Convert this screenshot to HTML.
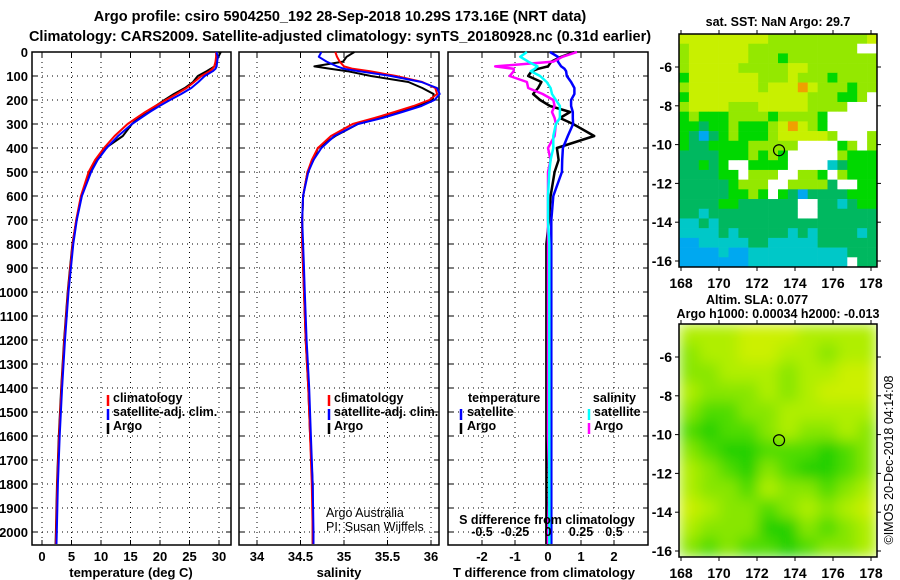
<!DOCTYPE html>
<html><head><meta charset="utf-8"><style>
html,body{margin:0;padding:0;background:#fff;}
svg{display:block;font-family:"Liberation Sans",Arial,sans-serif;}
.b{font-weight:bold;}
</style></head><body>
<svg id="c" width="900" height="580" viewBox="0 0 900 580" xmlns="http://www.w3.org/2000/svg">
<defs>
<filter id="blur" x="0" y="0" width="1" height="1"><feGaussianBlur stdDeviation="7" edgeMode="duplicate"/></filter>
<clipPath id="m2clip"><rect x="679" y="324" width="198" height="233"/></clipPath>
</defs>
<text x="340" y="21" text-anchor="middle" class="b" font-size="14.5">Argo profile: csiro 5904250_192 28-Sep-2018 10.29S 173.16E (NRT data)</text>
<text x="340" y="41" text-anchor="middle" class="b" font-size="14.5">Climatology: CARS2009. Satellite-adjusted climatology: synTS_20180928.nc (0.31d earlier)</text>
<g id="g"></g>
</svg>
<script>
// ---- data ----
const depths = [0,20,40,60,70,80,100,125,150,175,200,225,250,275,300,350,400,450,500,600,700,800,900,1000,1200,1400,1600,1800,2000,2050];
const climT = [29.5,29.5,29.4,29.2,28.9,28.4,27,25.8,24.5,22.8,21,19.2,17.5,16,14.5,12.3,10.5,9.0,7.9,6.6,5.8,5.2,4.8,4.4,3.8,3.3,2.9,2.6,2.4,2.35];
const satT = [29.56,29.8,29.7,29.6,29.4,28.95,27.57,26.5,25.3,23.6,21.7,19.9,18.25,16.75,15.26,12.9,10.95,9.43,8.32,6.76,5.9,5.3,4.9,4.5,3.9,3.4,3.0,2.7,2.5,2.45];
const argoT = [30.3,29.9,29.5,29.2,28.6,27.9,26.4,25.6,24.2,22.35,20.76,19.26,18.17,16.36,15.26,13.7,10.77,9.32,8.1,6.68,5.83,5.15,4.75,4.35,3.75,3.25,2.85,2.55,2.35,2.3];
const climS = [34.9,34.92,34.95,35.0,35.1,35.3,35.6,35.9,36.05,36.07,35.98,35.8,35.58,35.35,35.1,34.85,34.7,34.63,34.58,34.53,34.52,34.52,34.53,34.54,34.56,34.59,34.61,34.63,34.64,34.64];
const satS = [34.74,34.71,34.8,34.92,35.0,35.17,35.54,35.89,36.07,36.1,36.04,35.89,35.67,35.44,35.16,34.89,34.74,34.65,34.59,34.53,34.52,34.53,34.54,34.55,34.57,34.6,34.62,34.64,34.65,34.65];
const argoS = [35.12,35.03,34.99,34.66,34.84,35.04,35.31,35.74,35.9,36.03,36.02,35.85,35.61,35.4,35.16,34.9,34.7,34.65,34.58,34.53,34.52,34.52,34.53,34.54,34.56,34.59,34.61,34.64,34.64,34.64];
const tDiffSat = [0.06,0.3,0.3,0.4,0.5,0.55,0.57,0.7,0.8,0.8,0.7,0.7,0.75,0.75,0.76,0.6,0.45,0.43,0.42,0.16,0.1,0.1,0.1,0.1,0.1,0.1,0.1,0.1,0.1,0.1];
const tDiffArgo = [0.8,0.4,0.1,0,-0.3,-0.5,-0.6,-0.2,-0.3,-0.45,-0.24,0.06,0.67,0.36,0.76,1.4,0.27,0.32,0.2,0.08,0.03,-0.05,-0.05,-0.05,-0.05,-0.05,-0.05,-0.05,-0.05,-0.05];
const sDiffSat = [-0.16,-0.21,-0.15,-0.08,-0.1,-0.13,-0.06,-0.01,0.02,0.03,0.06,0.09,0.09,0.09,0.06,0.04,0.04,0.02,0.01,0,0,0.01,0.01,0.01,0.01,0.01,0.01,0.01,0.01,0.01];
const sDiffArgo = [0.22,0.11,0.04,-0.4,-0.26,-0.26,-0.29,-0.16,-0.15,-0.04,0.04,0.05,0.03,0.05,0.06,0.05,0,0.02,0,0,0,0,0,0,0,0,0,0.01,0,0];
const depthTicks = [0,100,200,300,400,500,600,700,800,900,1000,1100,1200,1300,1400,1500,1600,1700,1800,1900,2000];
const tTicks = [0,5,10,15,20,25,30];
const sTicks = [34,34.5,35,35.5,36];
const sTickLabels = ["34","34.5","35","35.5","36"];
const tdTicks = [-2,-1,0,1,2];
const sdTicks = [-0.5,-0.25,0,0.25,0.5];
const sdTickLabels = ["-0.5","-0.25","0","0.25","0.5"];
const lonTicks = [168,170,172,174,176,178];
const latTicks = [-6,-8,-10,-12,-14,-16];
const argoLon = 173.16, argoLat = -10.29;
const sstRows = [
"yyyyyyyyylllllllllly","lyyyyyylllllllllllww","lyyyyyylllglllllllll","lyyyyylllllyylllllll",
"gyyyyyyylllylllgllll","lyyyyyyylyyyoylllgll","gyyyyyyyyyyyylllgglw","lyyyylllyyyyyllllwww",
"glgggllllgllllgwwwww","ggGgglggglyoylgwwwww","gGbGglggglyyyyylwwwl","gGGgggglllllwwwwglwl",
"GGGGggglglgwwwwwlggg","GGgGgwwggggwwwwcGggg","GGGGggwlllwwllgwlggg","GGGGGglllwwllllGwwgg",
"GGGGGgglgwgGbGGGGggg","GGGGggGGGGGGwwGGcGgg","GGcGGGGGGGGGwwGGGGGG","ccGcGGGGGGGGGGGGGGGG",
"ccccGcGGGGGcGcGGGGcG","bbcccccGGcccccGGGGGG","bbbbcbbccccccccccGGG","bbbbbbbccccccccccwGG"];
const slaRows = ["LLLYYYLLLL","MLLYYLLMLL","MMLLLMLLYY","LMMMLMLYYY","MGGMMLLLLL","GDGGMLMMLM",
"MGDDGGGDGM","LMGDMGDDGM","LMMGLMMGML","YLMMGMLMLY","LMMMDDMGML","MGMGGDGMML"];
// ---- rendering ----
const NS="http://www.w3.org/2000/svg";
const root=document.getElementById('g');
function mk(tag,attrs,parent){const e=document.createElementNS(NS,tag);for(const k in attrs)e.setAttribute(k,attrs[k]);(parent||root).appendChild(e);return e;}
const PT=52, PB=545;
const yD = d => PT + d*0.24;
const panels=[{x0:32,x1:231,name:'temperature'},{x0:239,x1:439,name:'salinity'},{x0:448,x1:648,name:'difference'}];
const xT = v => 42 + v*5.9;
const xS = v => 257 + (v-34)*87;
const xTD = v => 548 + v*33;
const xSD = v => 548 + v*132;

depthTicks.forEach(d=>{const t=mk('text',{x:28,y:yD(d)+5,'text-anchor':'end','font-size':13,class:'b'});t.textContent=d;

});

function panelFrame(p,xs,xf){
  const g=mk('g',{});
  
  
  depthTicks.forEach(d=>{const l=mk('line',{x1:p.x0,x2:p.x1,y1:yD(d),y2:yD(d),stroke:'#000','stroke-width':1,'stroke-dasharray':'1,4'},g);
  
  
  mk('line',{x1:p.x0,x2:p.x0+5,y1:yD(d),y2:yD(d),stroke:'#000'},g);mk('line',{x1:p.x1-5,x2:p.x1,y1:yD(d),y2:yD(d),stroke:'#000'},g);});
  xs.forEach(v=>{const x=xf(v);const l=mk('line',{x1:x,x2:x,y1:PT,y2:PB,stroke:'#000','stroke-dasharray':'1,4'},g);
  
  
  mk('line',{x1:x,x2:x,y1:PB-5,y2:PB,stroke:'#000'},g);mk('line',{x1:x,x2:x,y1:PT,y2:PT+5,stroke:'#000'},g);});
  const r=mk('rect',{x:p.x0,y:PT,width:p.x1-p.x0,height:PB-PT,fill:'none',stroke:'#000','stroke-width':1.5},g);
  
  
  return g;
}
function line(vals,xf,color,g,name,w){
  const pts=vals.map((v,i)=>xf(v).toFixed(1)+','+yD(depths[i]).toFixed(1)).join(' ');
  const pl=mk('polyline',{points:pts,fill:'none',stroke:color,'stroke-width':w||2,'stroke-linejoin':'round'},g);
  
  
}
function txt(x,y,s,size,bold,g,name,anchor){const t=mk('text',{x:x,y:y,'font-size':size,'text-anchor':anchor||'start'},g);if(bold)t.setAttribute('class','b');t.textContent=s;
  
  return t;}
function legMark(x,y,color,g){const l=mk('line',{x1:x,x2:x,y1:y-7,y2:y+4,stroke:color,'stroke-width':2.5},g);
  
  }

let g1=panelFrame(panels[0],tTicks,xT);
line(argoT,xT,'#000',g1,'argo-temperature-line');
line(climT,xT,'#f00',g1,'climatology-temperature-line');
line(satT,xT,'#00f',g1,'satellite-temperature-line');
tTicks.forEach(v=>txt(xT(v),561,String(v),13,true,g1,'temperature-tick-label','middle'));
txt(131,577,'temperature (deg C)',13,true,g1,'temperature-axis-title','middle');
[['climatology','#f00'],['satellite-adj. clim.','#00f'],['Argo','#000']].forEach((e,i)=>{legMark(108,402+i*14,e[1],g1);txt(113,402+i*14,e[0],12.5,true,g1,'legend-entry');});

let g2=panelFrame(panels[1],sTicks,xS);
line(argoS,xS,'#000',g2,'argo-salinity-line');
line(climS,xS,'#f00',g2,'climatology-salinity-line');
line(satS,xS,'#00f',g2,'satellite-salinity-line');
sTicks.forEach((v,i)=>txt(xS(v),561,sTickLabels[i],13,true,g2,'salinity-tick-label','middle'));
txt(339,577,'salinity',13,true,g2,'salinity-axis-title','middle');
[['climatology','#f00'],['satellite-adj. clim.','#00f'],['Argo','#000']].forEach((e,i)=>{legMark(329,402+i*14,e[1],g2);txt(334,402+i*14,e[0],12.5,true,g2,'legend-entry');});
txt(326,517,'Argo Australia',12.5,false,g2,'credit-argo-australia');
txt(326,531,'PI: Susan Wijffels',12.5,false,g2,'credit-pi');

let g3=panelFrame(panels[2],tdTicks,xTD);
line(tDiffArgo,xTD,'#000',g3,'argo-temperature-diff-line',2.5);
line(tDiffSat,xTD,'#00f',g3,'satellite-temperature-diff-line',2.5);
line(sDiffArgo,xSD,'#f0f',g3,'argo-salinity-diff-line',2.5);
line(sDiffSat,xSD,'#0ff',g3,'satellite-salinity-diff-line',2.5);
tdTicks.forEach(v=>txt(xTD(v),561,String(v),13,true,g3,'t-diff-tick-label','middle'));
sdTicks.forEach((v,i)=>txt(xSD(v),536,sdTickLabels[i],12.5,true,g3,'s-diff-tick-label','middle'));
txt(547,524,'S difference from climatology',12.5,true,g3,'s-diff-axis-title','middle');
txt(544,577,'T difference from climatology',13,true,g3,'t-diff-axis-title','middle');
txt(468,402,'temperature',12.5,true,g3,'legend-temperature-header');
legMark(461,416,'#00f',g3);txt(467,416,'satellite',12.5,true,g3,'legend-entry');
legMark(461,430,'#000',g3);txt(467,430,'Argo',12.5,true,g3,'legend-entry');
txt(636,402,'salinity',12.5,true,g3,'legend-salinity-header','end');
legMark(589,416,'#0ff',g3);txt(594,416,'satellite',12.5,true,g3,'legend-entry');
legMark(589,430,'#f0f',g3);txt(594,430,'Argo',12.5,true,g3,'legend-entry');

const sstCol={y:'#c8f000',l:'#94e800',g:'#00d800',G:'#00b860',c:'#00c8c8',b:'#00a8f0',o:'#f0a000',w:'#ffffff'};
const slaCol={Y:'#ccf000',L:'#b0ee00',M:'#88e600',G:'#50dc00',D:'#20d000'};
const lonX = lon => 681 + (lon-168)*19;
function latY(top,lat){return top+33 + (-6-lat)*19.4;}
function mapAxes(top,g,name){
  const r=mk('rect',{x:679,y:top,width:198,height:233,fill:'none',stroke:'#000','stroke-width':1.5},g);
  
  
  lonTicks.forEach(v=>{const x=lonX(v);mk('line',{x1:x,x2:x,y1:top-4,y2:top,stroke:'#000'},g);mk('line',{x1:x,x2:x,y1:top+233,y2:top+237,stroke:'#000'},g);
    txt(x,top+254,String(v),14,true,g,'longitude-tick-label','middle');});
  latTicks.forEach(v=>{const y=latY(top,v);mk('line',{x1:675,x2:679,y1:y,y2:y,stroke:'#000'},g);mk('line',{x1:877,x2:881,y1:y,y2:y,stroke:'#000'},g);
    txt(672,y+5,String(v),14,true,g,'latitude-tick-label','end');});
  const c=mk('circle',{cx:lonX(argoLon),cy:latY(top,argoLat),r:5.5,fill:'none',stroke:'#000','stroke-width':1.2},g);
  
  
}
const gm1=mk('g',{});


const cw=198/sstRows[0].length, ch=233/sstRows.length;
sstRows.forEach((row,ri)=>{[...row].forEach((k,ci)=>{const r=mk('rect',{x:(679+ci*cw).toFixed(2),y:(34+ri*ch).toFixed(2),width:(cw+0.3).toFixed(2),height:(ch+0.3).toFixed(2),fill:sstCol[k]},gm1);
  
  });});
mapAxes(34,gm1,'sst-map');
txt(778,26,'sat. SST: NaN Argo: 29.7',12.5,true,gm1,'sst-map-title','middle');

const gm2=mk('g',{});


const gc=mk('g',{'clip-path':'url(#m2clip)'},gm2);
const gb=mk('g',{filter:'url(#blur)'},gc);
const cw2=198/slaRows[0].length, ch2=233/slaRows.length;
mk('rect',{x:679,y:324,width:198,height:233,fill:'#90e600'},gb);
slaRows.forEach((row,ri)=>{[...row].forEach((k,ci)=>{const r=mk('rect',{x:(679+ci*cw2).toFixed(2),y:(324+ri*ch2).toFixed(2),width:(cw2+0.3).toFixed(2),height:(ch2+0.3).toFixed(2),fill:slaCol[k]},gb);
  
  });});
mapAxes(324,gm2,'sla-map');
txt(757,304,'Altim. SLA: 0.077',12.5,true,gm2,'sla-map-title','middle');
txt(778,318,'Argo h1000: 0.00034 h2000: -0.013',12.5,true,gm2,'sla-map-subtitle','middle');
const cp=txt(0,0,'©IMOS 20-Dec-2018 04:14:08',12.5,false,gm2,'copyright-timestamp','middle');
cp.setAttribute('transform','translate(893,460) rotate(-90)');
</script>
</body></html>
